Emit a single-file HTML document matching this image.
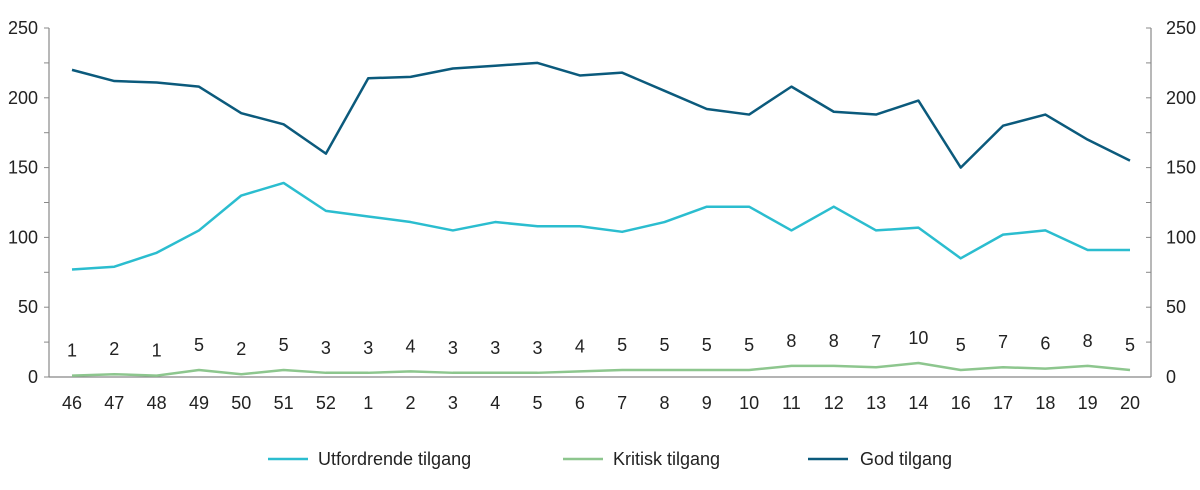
<!DOCTYPE html>
<html><head><meta charset="utf-8"><style>
body{margin:0;background:#fff;}
svg text{font-family:"Liberation Sans",sans-serif;font-size:18px;fill:#222;}
</style></head><body>
<svg id="chart" width="1200" height="485" viewBox="0 0 1200 485">
<g id="grid"></g><g id="series"></g><g id="labels"></g>
<g>
<line x1="268" y1="459" x2="308" y2="459" stroke="#2bbdcf" stroke-width="2.5"/>
<text x="318" y="465">Utfordrende tilgang</text>
<line x1="563" y1="459" x2="603" y2="459" stroke="#8dc68e" stroke-width="2.5"/>
<text x="613" y="465">Kritisk tilgang</text>
<line x1="808" y1="459" x2="848" y2="459" stroke="#0b5a7c" stroke-width="2.5"/>
<text x="860" y="465">God tilgang</text>
</g>
</svg>
<script>
const categories=["46","47","48","49","50","51","52","1","2","3","4","5","6","7","8","9","10","11","12","13","14","16","17","18","19","20"];
const utfordrende=[77,79,89,105,130,139,119,115,111,105,111,108,108,104,111,122,122,105,122,105,107,85,102,105,91,91];
const kritisk=[1,2,1,5,2,5,3,3,4,3,3,3,4,5,5,5,5,8,8,7,10,5,7,6,8,5];
const god=[220,212,211,208,189,181,160,214,215,221,223,225,216,218,205,192,188,208,190,188,198,150,180,188,170,155];
const yTicks=[0,50,100,150,200,250];
const minorTicks=[0,25,50,75,100,125,150,175,200,225,250];
const NS="http://www.w3.org/2000/svg";
const x=i=>72+i*(1130-72)/(categories.length-1);
const y=v=>377-v*(377-28)/250;
function mk(tag,attrs,parent,txt){const e=document.createElementNS(NS,tag);for(const k in attrs)e.setAttribute(k,attrs[k]);if(txt!==undefined)e.textContent=txt;parent.appendChild(e);return e;}
const grid=document.getElementById('grid'),ser=document.getElementById('series'),lab=document.getElementById('labels');
const ax=mk('line',{x1:49,x2:1151,y1:377,y2:377,stroke:'#888','stroke-width':1.2},grid);


const la=mk('line',{x1:49,x2:49,y1:28,y2:377,stroke:'#888','stroke-width':1.2},grid);


const ra=mk('line',{x1:1151,x2:1151,y1:28,y2:377,stroke:'#888','stroke-width':1.2},grid);


minorTicks.forEach(t=>{
 mk('line',{x1:44,x2:49,y1:y(t),y2:y(t),stroke:'#888'},grid);
 mk('line',{x1:1146,x2:1151,y1:y(t),y2:y(t),stroke:'#888'},grid);
});
yTicks.forEach(t=>{
 const a=mk('text',{x:38,y:y(t)+6,'text-anchor':'end'},grid,t);
 
 
 const b=mk('text',{x:1166,y:y(t)+6,'text-anchor':'start'},grid,t);
 
 
});
categories.forEach((c,i)=>{
 const t=mk('text',{x:x(i),y:409,'text-anchor':'middle'},grid,c);
 
 
});
function line(vals,color,name){
 const p=mk('polyline',{points:vals.map((v,i)=>x(i)+','+y(v)).join(' '),fill:'none',stroke:color,'stroke-width':2.5,'stroke-linejoin':'round'},ser);
 
 
}
line(kritisk,'#8dc68e','kritisk-line');
line(utfordrende,'#2bbdcf','utfordrende-line');
line(god,'#0b5a7c','god-line');
kritisk.forEach((v,i)=>{
 const t=mk('text',{x:x(i),y:y(v)-19,'text-anchor':'middle'},lab,v);
 
 
});
</script>
</body></html>
